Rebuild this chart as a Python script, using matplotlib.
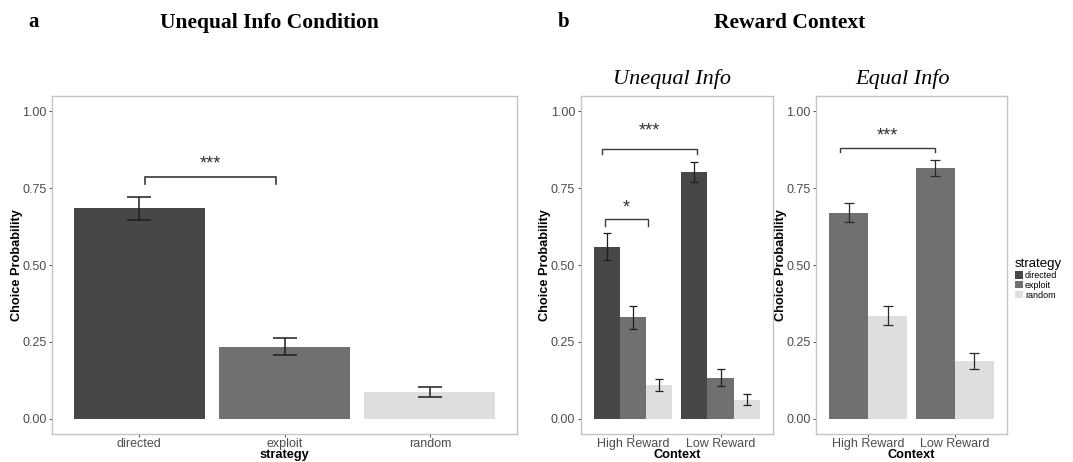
import matplotlib
matplotlib.use("Agg")
import matplotlib.pyplot as plt
from matplotlib.patches import Patch
import numpy as np

# data
strategies = ['directed', 'exploit', 'random']
colors = {'directed': '#474747', 'exploit': '#707070', 'random': '#dedede'}

# panel a: unequal info condition
a_mean = [0.684, 0.234, 0.086]
a_lo = [0.648, 0.206, 0.071]
a_hi = [0.721, 0.263, 0.102]

# panel b: reward context
contexts = ['High Reward', 'Low Reward']
uneq_mean = {'directed': [0.560, 0.803], 'exploit': [0.330, 0.133], 'random': [0.108, 0.062]}
uneq_lo = {'directed': [0.516, 0.771], 'exploit': [0.292, 0.106], 'random': [0.090, 0.046]}
uneq_hi = {'directed': [0.605, 0.836], 'exploit': [0.366, 0.162], 'random': [0.130, 0.079]}

eq_mean = {'exploit': [0.670, 0.815], 'random': [0.333, 0.187]}
eq_lo = {'exploit': [0.641, 0.791], 'random': [0.304, 0.163]}
eq_hi = {'exploit': [0.702, 0.841], 'random': [0.365, 0.214]}

plt.rcParams['font.family'] = ['Liberation Sans', 'DejaVu Sans']

W, H = 1073, 462
fig = plt.figure(figsize=(W / 100, H / 100), dpi=100)


def px_axes(left, top, right, bottom):
    return fig.add_axes([left / W, 1 - bottom / H, (right - left) / W, (bottom - top) / H])


def style_axes(ax, xlabel):
    for s in ax.spines.values():
        s.set_color('#c4c4c4')
        s.set_linewidth(1.0)
    ax.set_ylim(-0.05, 1.05)
    ax.set_yticks([0, 0.25, 0.5, 0.75, 1.0])
    ax.set_yticklabels(['0.00', '0.25', '0.50', '0.75', '1.00'])
    ax.tick_params(axis='both', colors='#333333', labelcolor='#4d4d4d',
                   labelsize=9, length=2.5, width=0.6, pad=1.5)
    ax.tick_params(axis='x', pad=0.5)
    ax.set_ylabel('Choice Probability', fontsize=9.2, fontweight='bold', labelpad=-0.5)
    ax.set_xlabel(xlabel, fontsize=9.2, fontweight='bold', labelpad=-0.5)


def bracket(ax, x0, x1, y, ydrop, text, ytext, lw=1.2, size=13):
    ax.plot([x0, x0, x1, x1], [y - ydrop, y, y, y - ydrop], color='#3a3a3a', lw=lw,
            solid_joinstyle='miter')
    ax.text((x0 + x1) / 2, ytext, text, ha='center', va='center', fontsize=size,
            color='#333333')


# ---- panel a ----
ax_a = px_axes(52, 96, 517, 434)
x = np.arange(len(strategies))
ax_a.bar(x, a_mean, width=0.9, color=[colors[s] for s in strategies], zorder=2)
a_mean_arr = np.array(a_mean)
ax_a.errorbar(x, a_mean, yerr=[a_mean_arr - np.array(a_lo), np.array(a_hi) - a_mean_arr],
              fmt='none', ecolor='#1e1e1e', elinewidth=1.1, capsize=8.5, capthick=1.1, zorder=3)
ax_a.set_xlim(-0.6, 2.6)
ax_a.set_xticks(x)
ax_a.set_xticklabels(strategies)
style_axes(ax_a, 'strategy')
bracket(ax_a, 0.04, 0.94, 0.785, 0.02, '***', 0.83)

# ---- panel b, unequal info ----
ax_b1 = px_axes(580.5, 96, 773, 434)
xc = np.arange(1, len(contexts) + 1)
bw = 0.3
for i, s in enumerate(strategies):
    xs = xc + (i - 1) * bw
    m = np.array(uneq_mean[s])
    ax_b1.bar(xs, m, width=bw, color=colors[s], zorder=2)
    ax_b1.errorbar(xs, m, yerr=[m - np.array(uneq_lo[s]), np.array(uneq_hi[s]) - m],
                   fmt='none', ecolor='#1e1e1e', elinewidth=0.9, capsize=2.6,
                   capthick=0.9, zorder=3)
ax_b1.set_xlim(0.4, 2.6)
ax_b1.set_xticks(xc)
ax_b1.set_xticklabels(contexts)
style_axes(ax_b1, 'Context')
bracket(ax_b1, 0.65, 1.73, 0.878, 0.016, '***', 0.935, lw=1.0)
bracket(ax_b1, 0.68, 1.17, 0.651, 0.024, '*', 0.685, lw=1.0)

# ---- panel b, equal info ----
ax_b2 = px_axes(816, 96, 1007, 434)
bw2 = 0.45
for i, s in enumerate(['exploit', 'random']):
    xs = xc + (i - 0.5) * bw2
    m = np.array(eq_mean[s])
    ax_b2.bar(xs, m, width=bw2, color=colors[s], zorder=2)
    ax_b2.errorbar(xs, m, yerr=[m - np.array(eq_lo[s]), np.array(eq_hi[s]) - m],
                   fmt='none', ecolor='#2a2a2a', elinewidth=0.9, capsize=3.3,
                   capthick=0.9, zorder=3)
ax_b2.set_xlim(0.4, 2.6)
ax_b2.set_xticks(xc)
ax_b2.set_xticklabels(contexts)
style_axes(ax_b2, 'Context')
bracket(ax_b2, 0.675, 1.77, 0.881, 0.013, '***', 0.92, lw=1.0)

# legend
handles = [Patch(facecolor=colors[s], edgecolor='none', label=s) for s in strategies]
leg = fig.legend(handles=handles, title='strategy', loc='upper left',
                 bbox_to_anchor=(1015 / W, 1 - 258 / H), frameon=False,
                 fontsize=6.5, title_fontsize=9.5, handlelength=0.9, handleheight=0.9,
                 labelspacing=0.1, handletextpad=0.2, borderpad=0, borderaxespad=0,
                 alignment='left')

# titles
serif = ['Liberation Serif', 'DejaVu Serif']
fig.text(28 / W, 1 - 22 / H, 'a', family=serif, fontweight='bold', fontsize=15, va='center')
fig.text(269 / W, 1 - 23 / H, 'Unequal Info Condition', family=serif, fontweight='bold',
         fontsize=15.5, ha='center', va='center')
fig.text(558 / W, 1 - 22 / H, 'b', family=serif, fontweight='bold', fontsize=15, va='center')
fig.text(790 / W, 1 - 23 / H, 'Reward Context', family=serif, fontweight='bold',
         fontsize=15.5, ha='center', va='center')
fig.text(672 / W, 1 - 79 / H, 'Unequal Info', family=serif, style='italic',
         fontsize=16, ha='center', va='center')
fig.text(903 / W, 1 - 79 / H, 'Equal Info', family=serif, style='italic',
         fontsize=16, ha='center', va='center')

fig.savefig('out.png', dpi=100)
